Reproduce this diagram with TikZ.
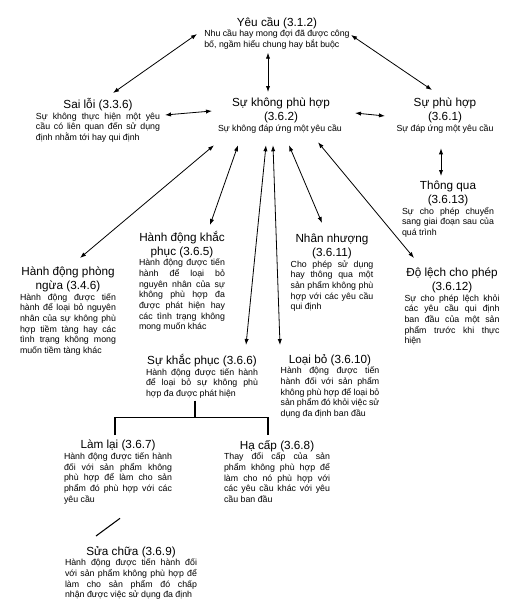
\documentclass[tikz,border=0pt]{standalone}
\usepackage{fontspec}
\setmainfont{Liberation Sans}
\usetikzlibrary{arrows.meta,calc}
\newcommand{\ttl}[1]{{\centering\fontsize{8.8}{10.2}\selectfont #1\par}}
\hyphenpenalty=10000
\tolerance=10000
\begin{document}
\begin{tikzpicture}[x=0.75pt,y=-0.75pt,
  concept/.style={anchor=north,inner sep=0pt,align=justify,font=\fontsize{6.6}{8}\selectfont},
  link/.style={<->,>={Latex[length=4.5pt,width=3.2pt]},line width=0.6pt},
  tree/.style={line width=0.8pt}]
\useasboundingbox (0,0) rectangle (519,603);
\node[concept,text width=109pt] (yeucau) at (277,17) {\ttl{Yêu cầu (3.1.2)}Nhu cầu hay mong đợi đã được công\linebreak bố, ngầm hiểu chung hay bắt buộc};
\node[concept,text width=93pt] (sailoi) at (98,98) {\ttl{Sai lỗi (3.3.6)}Sự không thực hiện một yêu\linebreak cầu có liên quan đến sử dụng\linebreak định nhằm tới hay qui định};
\node[concept,text width=94.5pt] (khongphuhop) at (281,98) {\ttl{Sự không phù hợp\\(3.6.2)}Sự không đáp ứng một yêu cầu};
\node[concept,text width=72.75pt] (phuhop) at (445,98) {\ttl{Sự phù hợp (3.6.1)}Sự đáp ứng một yêu cầu};
\node[concept,text width=69pt] (thongqua) at (448,181) {\ttl{Thông qua (3.6.13)}Sự cho phép chuyển\linebreak sang giai đoạn sau của\linebreak quá trình};
\node[concept,text width=64.5pt] (khacphuc) at (182,231) {\ttl{Hành động khắc\\phục (3.6.5)}Hành động được tiến\linebreak hành để loại bỏ\linebreak nguyên nhân của sự\linebreak không phù hợp đa\linebreak được phát hiện hay\linebreak các tình trạng không\linebreak mong muốn khác};
\node[concept,text width=72pt] (phongngua) at (68,267) {\ttl{Hành động phòng\\ngừa (3.4.6)}Hành động được tiến\linebreak hành để loại bỏ nguyên\linebreak nhân của sự không phù\linebreak hợp tiềm tàng hay các\linebreak tình trạng không mong\linebreak muốn tiềm tàng khác};
\node[concept,text width=62pt] (nhannhuong) at (332,234) {\ttl{Nhân nhượng\\(3.6.11)}Cho phép sử dụng\linebreak hay thông qua một\linebreak sản phẩm không phù\linebreak hợp với các yêu cầu\linebreak qui định};
\node[concept,text width=71.25pt] (dolech) at (452,268) {\ttl{Độ lệch cho phép\\(3.6.12)}Sự cho phép lệch khỏi\linebreak các yêu cầu qui định\linebreak ban đầu của một sản\linebreak phẩm trước khi thực\linebreak hiện};
\node[concept,text width=84pt] (sukhacphuc) at (202,354) {\ttl{Sự khắc phục (3.6.6)}Hành động được tiến hành\linebreak để loại bỏ sự không phù\linebreak hợp đa được phát hiện};
\node[concept,text width=74pt] (loaibo) at (330,354) {\ttl{Loại bỏ (3.6.10)}Hành động được tiến\linebreak hành đối với sản phẩm\linebreak không phù hợp để loại bỏ\linebreak sản phẩm đó khỏi việc sử\linebreak dụng đa định ban đầu};
\node[concept,text width=81pt] (lamlai) at (118,440) {\ttl{Làm lại (3.6.7)}Hành động được tiến hành\linebreak đối với sản phẩm không\linebreak phù hợp để làm cho sản\linebreak phẩm đó phù hợp với các\linebreak yêu cầu};
\node[concept,text width=79.5pt] (hacap) at (277,440) {\ttl{Hạ cấp (3.6.8)}Thay đổi cấp của sản\linebreak phẩm không phù hợp để\linebreak làm cho nó phù hợp với\linebreak các yêu cầu khác với yêu\linebreak cầu ban đầu};
\node[concept,text width=99pt] (suachua) at (131,546) {\ttl{Sửa chữa (3.6.9)}Hành động được tiến hành đối\linebreak với sản phẩm không phù hợp để\linebreak làm cho sản phẩm đó chấp\linebreak nhận được việc sử dụng đa định};
% top row
\draw[link] ($(sailoi.north)+(15,-5)$) -- ($(yeucau.north)+(-80,17)$);
\draw[link] ($(yeucau.north)+(74,18)$) -- ($(phuhop.north)+(-13,-8)$);
\draw[link] ($(yeucau.south)+(-9,3)$) -- ($(khongphuhop.north)+(-13,-6)$);
\draw[link] ($(sailoi.north)+(67,17)$) -- ($(khongphuhop.north)+(-69,13)$);
\draw[link] ($(khongphuhop.north)+(74,15)$) -- ($(phuhop.north)+(-60,18)$);
\draw[link] ($(phuhop.south)+(-4,15)$) -- ($(thongqua.north)+(-7,-5)$);
% fan below the nonconformity
\draw[link] ($(khongphuhop.south)+(-67,12)$) -- ($(phongngua.north)+(12,-9)$);
\draw[link] ($(khongphuhop.south)+(-43,12)$) -- ($(khacphuc.north)+(28,-6)$);
\draw[link] ($(khongphuhop.south)+(-15,12)$) -- ($(sukhacphuc.north)+(44,-9)$);
\draw[link] ($(khongphuhop.south)+(-8,12)$) -- ($(loaibo.north)+(-50,-9)$);
\draw[link] ($(khongphuhop.south)+(8,12)$) -- ($(nhannhuong.north)+(-10,-11)$);
\draw[link] ($(khongphuhop.south)+(37,9)$) -- ($(dolech.north)+(-38,-10)$);
% correction tree
\coordinate (split) at ($(sukhacphuc.south)+(-7,19)$);
\draw[tree] ($(sukhacphuc.south)+(-7,2)$) -- (split);
\draw[tree] ($(lamlai.north)+(-3,-5)$) |- (split) -| ($(hacap.north)+(-9,-5)$);
\draw[tree] ($(lamlai.south)+(2,14)$) -- ($(suachua.north)+(-35,-10)$);
\end{tikzpicture}
\end{document}
